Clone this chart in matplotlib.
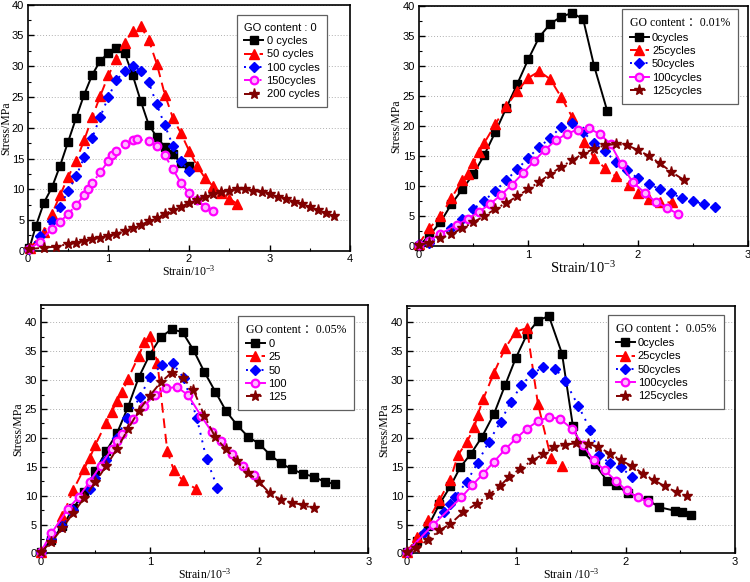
import matplotlib
matplotlib.use('Agg')
from matplotlib import pyplot as plt
from matplotlib.ticker import MultipleLocator

plt.rcParams['mathtext.default'] = 'regular'

# ---------------- 数据 ----------------
# 图1  GO content : 0
x1_c0 = [0.02, 0.1, 0.2, 0.3, 0.4, 0.5, 0.6, 0.7, 0.8, 0.9, 1.0, 1.1, 1.2, 1.3, 1.4, 1.5, 1.6, 1.7, 1.8, 1.9, 2.0]
y1_c0 = [0.4, 4.0, 7.8, 10.3, 13.8, 17.7, 21.6, 25.4, 28.6, 30.9, 32.1, 33.0, 32.2, 28.6, 24.4, 20.5, 18.5, 16.9, 15.7, 14.3, 13.8]
x1_c50 = [0.03, 0.2, 0.3, 0.4, 0.5, 0.6, 0.7, 0.8, 0.9, 1.0, 1.1, 1.2, 1.3, 1.4, 1.5, 1.6, 1.7, 1.8, 1.9, 2.0, 2.1, 2.2, 2.3, 2.4, 2.5, 2.6]
y1_c50 = [0.5, 3.0, 6.0, 9.0, 12.0, 14.6, 18.0, 21.7, 25.2, 28.5, 31.2, 33.8, 35.7, 36.5, 34.3, 30.4, 25.4, 21.6, 19.1, 16.3, 13.8, 11.8, 10.5, 9.4, 8.5, 7.6]
x1_c100 = [0.02, 0.15, 0.3, 0.4, 0.5, 0.6, 0.7, 0.8, 0.9, 1.0, 1.1, 1.2, 1.3, 1.4, 1.5, 1.6, 1.7, 1.8, 1.9, 2.0]
y1_c100 = [0.3, 2.4, 4.8, 7.2, 9.7, 12.1, 15.2, 18.4, 21.8, 25.0, 27.7, 29.3, 30.0, 29.3, 27.4, 23.8, 20.4, 17.1, 14.6, 12.9]
x1_c150 = [0.02, 0.15, 0.3, 0.4, 0.5, 0.6, 0.7, 0.75, 0.8, 0.9, 1.0, 1.05, 1.1, 1.2, 1.3, 1.35, 1.5, 1.6, 1.7, 1.8, 1.9, 2.0, 2.1, 2.2, 2.3]
y1_c150 = [0.3, 1.5, 3.6, 4.7, 6.0, 7.4, 9.1, 10.0, 11.0, 12.8, 14.6, 15.5, 16.2, 17.4, 18.0, 18.1, 17.9, 17.0, 15.5, 13.3, 11.0, 9.4, 8.2, 7.2, 6.4]
x1_c200 = [0.02, 0.2, 0.35, 0.5, 0.6, 0.7, 0.8, 0.9, 1.0, 1.1, 1.2, 1.3, 1.4, 1.5, 1.6, 1.7, 1.8, 1.9, 2.0, 2.1, 2.2, 2.3, 2.4,
           2.5, 2.6, 2.7, 2.8, 2.9, 3.0, 3.1, 3.2, 3.3, 3.4, 3.5, 3.6, 3.7, 3.8]
y1_c200 = [0.3, 0.5, 0.7, 1.1, 1.3, 1.6, 1.9, 2.1, 2.4, 2.8, 3.2, 3.7, 4.2, 4.8, 5.4, 6.0, 6.6, 7.2, 7.8, 8.3, 8.8, 9.2, 9.5,
           9.8, 10.0, 10.0, 9.8, 9.5, 9.2, 8.8, 8.5, 8.0, 7.6, 7.1, 6.6, 6.1, 5.6]

# 图2  GO content : 0.01%
x2_c0 = [0.0, 0.1, 0.2, 0.3, 0.4, 0.5, 0.6, 0.7, 0.8, 0.9, 1.0, 1.1, 1.2, 1.3, 1.4, 1.5, 1.6, 1.72]
y2_c0 = [0.0, 1.8, 4.0, 7.0, 9.5, 12.0, 15.2, 19.0, 23.0, 27.0, 31.1, 34.8, 37.0, 38.2, 38.8, 37.8, 30.0, 22.5]
x2_c25 = [0.0, 0.1, 0.2, 0.3, 0.4, 0.45, 0.5, 0.55, 0.6, 0.7, 0.8, 0.9, 1.0, 1.1, 1.2, 1.3, 1.4, 1.51, 1.6, 1.7, 1.8, 1.92, 2.0, 2.1, 2.2, 2.31]
y2_c25 = [0.3, 3.0, 5.0, 8.0, 11.0, 12.0, 13.8, 15.6, 17.2, 20.3, 23.3, 25.8, 28.0, 29.1, 27.8, 24.8, 21.5, 17.4, 14.7, 13.0, 11.6, 10.2, 8.9, 7.8, 7.3, 7.3]
x2_c50 = [0.0, 0.1, 0.3, 0.4, 0.5, 0.6, 0.7, 0.8, 0.9, 1.0, 1.1, 1.2, 1.3, 1.4, 1.5, 1.6, 1.7, 1.8, 1.9, 2.0, 2.1, 2.2, 2.3, 2.4, 2.5, 2.6, 2.7]
y2_c50 = [0.3, 0.5, 3.0, 4.5, 6.2, 7.6, 9.2, 11.0, 12.8, 14.7, 16.5, 18.0, 19.9, 20.5, 19.0, 17.2, 15.8, 14.0, 12.6, 11.3, 10.3, 9.5, 8.8, 8.0, 7.5, 7.0, 6.6]
x2_c100 = [0.0, 0.1, 0.2, 0.35, 0.45, 0.55, 0.65, 0.75, 0.85, 0.95, 1.05, 1.15, 1.25, 1.35, 1.45, 1.55, 1.65, 1.75, 1.85, 1.95, 2.06, 2.16, 2.26, 2.36]
y2_c100 = [0.2, 0.9, 2.1, 3.5, 4.6, 5.7, 7.0, 8.5, 10.2, 12.1, 14.1, 16.0, 17.6, 18.7, 19.4, 19.6, 18.7, 17.0, 13.6, 10.7, 8.9, 7.4, 6.4, 5.4]
x2_c125 = [0.0, 0.1, 0.2, 0.3, 0.4, 0.5, 0.6, 0.7, 0.8, 0.9, 1.0, 1.1, 1.2, 1.3, 1.4, 1.5, 1.6, 1.7, 1.8, 1.9, 2.0, 2.1, 2.2, 2.3, 2.42]
y2_c125 = [0.2, 0.6, 1.3, 2.0, 3.0, 4.0, 5.0, 6.2, 7.2, 8.3, 9.5, 10.7, 12.0, 13.2, 14.3, 15.4, 16.2, 16.8, 17.0, 16.8, 16.0, 15.0, 13.8, 12.4, 11.0]

# 图3  GO content : 0.05%
x3_c0 = [0.0, 0.1, 0.2, 0.3, 0.4, 0.5, 0.6, 0.7, 0.8, 0.9, 1.0, 1.1, 1.2, 1.3, 1.4, 1.5, 1.6, 1.7, 1.8, 1.9, 2.0, 2.1, 2.2, 2.3, 2.4, 2.5, 2.6, 2.7]
y3_c0 = [0.2, 2.3, 4.7, 7.8, 10.7, 14.2, 17.7, 20.8, 25.3, 30.5, 34.4, 37.4, 38.8, 38.3, 35.2, 31.4, 28.0, 24.6, 22.2, 20.2, 19.0, 17.1, 15.6, 14.6, 13.8, 13.3, 12.4, 12.0]
x3_c25 = [0.0, 0.1, 0.2, 0.3, 0.4, 0.45, 0.5, 0.6, 0.65, 0.7, 0.75, 0.8, 0.9, 0.95, 1.0, 1.07, 1.16, 1.22, 1.3, 1.42]
y3_c25 = [0.2, 2.8, 6.4, 11.0, 14.7, 16.5, 18.7, 22.6, 24.4, 26.4, 28.0, 30.2, 34.2, 36.6, 37.6, 33.0, 17.8, 14.4, 12.7, 11.2]
x3_c50 = [0.0, 0.1, 0.2, 0.3, 0.45, 0.5, 0.6, 0.7, 0.79, 0.91, 1.0, 1.11, 1.21, 1.31, 1.43, 1.52, 1.62]
y3_c50 = [0.2, 2.5, 4.8, 7.5, 11.2, 13.0, 16.1, 20.0, 23.5, 27.0, 30.5, 32.6, 32.9, 30.4, 23.5, 16.3, 11.4]
x3_c100 = [0.0, 0.1, 0.25, 0.35, 0.45, 0.55, 0.65, 0.7, 0.75, 0.85, 0.95, 1.05, 1.15, 1.25, 1.35, 1.47, 1.57, 1.65, 1.75, 1.85, 1.95]
y3_c100 = [0.2, 3.5, 7.7, 9.8, 12.4, 15.2, 18.0, 19.4, 20.7, 23.3, 25.6, 27.4, 28.6, 28.8, 27.4, 23.8, 21.0, 19.4, 17.2, 15.1, 13.6]
x3_c125 = [0.0, 0.1, 0.2, 0.3, 0.4, 0.5, 0.6, 0.7, 0.8, 0.9, 1.0, 1.1, 1.2, 1.3, 1.4, 1.5, 1.6, 1.7, 1.8, 1.9, 2.0, 2.1, 2.2, 2.3, 2.4, 2.5]
y3_c125 = [0.2, 2.0, 4.4, 7.0, 9.6, 12.3, 15.1, 18.1, 21.5, 24.7, 27.3, 29.6, 31.3, 30.4, 28.3, 23.8, 20.1, 18.0, 16.0, 14.0, 12.4, 10.4, 9.3, 8.8, 8.4, 7.8]

# 图4  GO content : 0.05%
x4_c0 = [0.0, 0.1, 0.2, 0.3, 0.4, 0.49, 0.59, 0.69, 0.8, 0.9, 1.0, 1.1, 1.2, 1.3, 1.42, 1.52, 1.61, 1.72, 1.83, 1.91, 2.02, 2.21, 2.31, 2.45, 2.52, 2.6]
y4_c0 = [0.2, 2.2, 4.8, 8.5, 11.6, 14.9, 17.3, 20.2, 24.2, 29.1, 33.9, 37.9, 40.3, 41.1, 34.6, 22.0, 17.7, 15.5, 12.6, 11.8, 10.5, 9.2, 8.0, 7.4, 7.2, 6.6]
x4_c25 = [0.0, 0.1, 0.2, 0.3, 0.4, 0.47, 0.55, 0.62, 0.65, 0.7, 0.8, 0.9, 1.0, 1.1, 1.2, 1.32, 1.42]
y4_c25 = [0.2, 2.8, 5.8, 9.2, 12.8, 17.0, 19.3, 21.8, 24.0, 26.7, 31.3, 35.5, 38.4, 39.0, 25.9, 16.5, 15.1]
x4_c50 = [0.0, 0.16, 0.34, 0.4, 0.44, 0.55, 0.65, 0.75, 0.86, 0.95, 1.05, 1.15, 1.25, 1.36, 1.45, 1.57, 1.68, 1.76, 1.86, 1.96, 2.06]
y4_c50 = [0.2, 3.5, 7.2, 8.5, 9.7, 12.4, 15.7, 19.3, 22.8, 26.2, 29.1, 31.2, 32.2, 32.0, 29.8, 25.5, 21.4, 17.0, 15.6, 14.9, 13.2]
x4_c100 = [0.0, 0.24, 0.5, 0.6, 0.7, 0.8, 0.9, 1.0, 1.1, 1.2, 1.3, 1.4, 1.51, 1.61, 1.71, 1.81, 1.91, 2.01, 2.11, 2.21]
y4_c100 = [0.2, 4.9, 9.7, 11.8, 13.8, 15.9, 18.0, 19.9, 21.6, 22.9, 23.6, 23.3, 21.6, 18.8, 16.1, 14.4, 12.6, 10.9, 9.7, 8.9]
x4_c125 = [0.0, 0.09, 0.2, 0.3, 0.4, 0.52, 0.64, 0.75, 0.85, 0.94, 1.04, 1.15, 1.25, 1.35, 1.45, 1.55, 1.66, 1.75, 1.86, 1.96,
           2.06, 2.16, 2.26, 2.36, 2.47, 2.56]
y4_c125 = [0.2, 1.0, 2.4, 4.0, 5.1, 7.2, 8.6, 10.1, 11.6, 13.3, 14.7, 16.1, 17.2, 18.4, 18.8, 19.1, 19.0, 18.4, 17.3, 16.1,
           15.1, 13.8, 12.7, 11.6, 10.6, 9.9]

labels1 = ['0 cycles', '50 cycles', '100 cycles', '150cycles', '200 cycles']
labels2 = ['0cycles', '25cycles', '50cycles', '100cycles', '125cycles']
labels3 = ['0', '25', '50', '100', '125']
labels4 = ['0cycles', '25cycles', '50cycles', '100cycles', '125cycles']

# ---------------- 样式 ----------------
styles = [
    dict(color='black', ls='-', marker='s', ms=5.5, mfc='black', mec='black'),
    dict(color='red', ls=(0, (5, 3)), marker='^', ms=6.5, mfc='red', mec='red'),
    dict(color='blue', ls=(0, (1, 3)), marker='D', ms=5.5, mfc='blue', mec='blue'),
    dict(color='magenta', ls='-', marker='o', ms=5.5, mfc='#ffb8ff', mec='magenta', mew=1.6),
    dict(color='#800000', ls=(0, (5, 2, 1, 2)), marker='*', ms=8, mfc='#800000', mec='#800000'),
]

serif = ['Liberation Serif', 'DejaVu Serif']
serif_cjk = ['Liberation Serif', 'Noto Sans CJK SC']
sans = ['Liberation Sans', 'DejaVu Sans']

fig = plt.figure(figsize=(7.5, 5.82), dpi=100)

panels = [
    dict(rect=[0.037, 0.569, 0.430, 0.423], xs=[x1_c0, x1_c50, x1_c100, x1_c150, x1_c200],
         ys=[y1_c0, y1_c50, y1_c100, y1_c150, y1_c200], labels=labels1, xlim=4, ylim=40,
         title='GO content : 0', tfont=sans, tsize=8, xlabel='Strain/10$^{-3}$', xlsize=8.5, magenta_ls='-.',
         legpos=(0.928, 0.958)),
    dict(rect=[0.558, 0.577, 0.439, 0.413], xs=[x2_c0, x2_c25, x2_c50, x2_c100, x2_c125],
         ys=[y2_c0, y2_c25, y2_c50, y2_c100, y2_c125], labels=labels2, xlim=3, ylim=40,
         title='GO content \uff1a0.01%', tfont=serif_cjk, tsize=8.5, xlabel='Strain/10$^{-3}$', xlsize=10.5,
         magenta_ls='-', legpos=(0.97, 0.985)),
    dict(rect=[0.054, 0.049, 0.437, 0.427], xs=[x3_c0, x3_c25, x3_c50, x3_c100, x3_c125],
         ys=[y3_c0, y3_c25, y3_c50, y3_c100, y3_c125], labels=labels3, xlim=3, ylim=43,
         title='GO content \uff1a0.05%', tfont=serif_cjk, tsize=8.5, xlabel='Strain/10$^{-3}$', xlsize=8.5,
         magenta_ls='-', legpos=(0.957, 0.956)),
    dict(rect=[0.542, 0.049, 0.438, 0.425], xs=[x4_c0, x4_c25, x4_c50, x4_c100, x4_c125],
         ys=[y4_c0, y4_c25, y4_c50, y4_c100, y4_c125], labels=labels4, xlim=3, ylim=42.8,
         title='GO content \uff1a0.05%', tfont=serif_cjk, tsize=8.5, xlabel='Strain /10$^{-3}$', xlsize=8.5,
         magenta_ls='-', legpos=(0.966, 0.964)),
]

for p in panels:
    ax = fig.add_axes(p['rect'])
    for i in range(5):
        st = dict(styles[i])
        if i == 3:
            st['ls'] = p['magenta_ls']
        ax.plot(p['xs'][i], p['ys'][i], lw=1.4, label=p['labels'][i], clip_on=False, zorder=3, **st)

    ax.set_xlim(0, p['xlim'])
    ax.set_ylim(0, p['ylim'])
    ax.xaxis.set_major_locator(MultipleLocator(1))
    ax.xaxis.set_minor_locator(MultipleLocator(0.5))
    ax.yaxis.set_major_locator(MultipleLocator(5))
    ax.yaxis.set_minor_locator(MultipleLocator(2.5))
    ax.tick_params(which='both', direction='in', top=False, right=False, labelsize=8, pad=2.5)
    ax.tick_params(which='major', length=4, width=1)
    ax.tick_params(which='minor', length=2, width=0.8)
    for lab in ax.get_xticklabels() + ax.get_yticklabels():
        lab.set_family(sans)
    for s in ax.spines.values():
        s.set_linewidth(1.2)
    # 水平网格线
    ax.yaxis.grid(True, ls=(0, (1, 2)), color='#b0b0b0', lw=0.7)
    ax.set_axisbelow(True)

    ax.set_xlabel(p['xlabel'], family=serif, fontsize=p['xlsize'], labelpad=0)
    ax.set_ylabel('Stress/MPa', family=serif, fontsize=8.5, labelpad=0)

    leg = ax.legend(loc='upper right', bbox_to_anchor=p['legpos'], title=p['title'], fancybox=False,
                    edgecolor='#606060', framealpha=1, prop={'family': sans, 'size': 8},
                    handlelength=1.7, handletextpad=0.3, labelspacing=0.3, borderpad=0.7,
                    borderaxespad=0, alignment='left')
    leg.get_title().set_family(p['tfont'])
    leg.get_title().set_fontsize(p['tsize'])
    leg.get_frame().set_linewidth(0.9)

plt.savefig('out.png', dpi=100)
